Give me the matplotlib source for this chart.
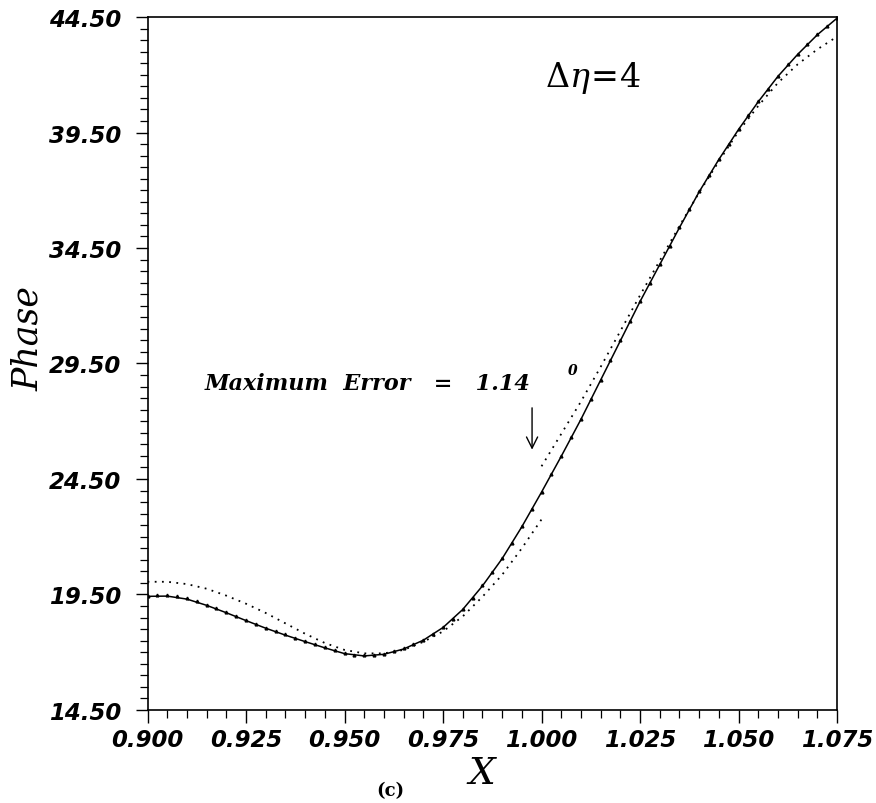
import matplotlib
matplotlib.use("Agg")
import matplotlib.pyplot as plt
from matplotlib.ticker import MultipleLocator, FormatStrFormatter

# SOLID CURVE (exact phase)
x_solid = [0.900, 0.905, 0.910, 0.915, 0.920, 0.925, 0.930, 0.935, 0.940, 0.945,
           0.950, 0.955, 0.960, 0.965, 0.970, 0.975, 0.980, 0.985, 0.990, 0.995,
           1.000, 1.005, 1.010, 1.015, 1.020, 1.025, 1.030, 1.035, 1.040, 1.045,
           1.050, 1.055, 1.060, 1.065, 1.070, 1.075]
y_solid = [19.42, 19.43, 19.30, 19.03, 18.71, 18.37, 18.04, 17.74, 17.46, 17.19,
           16.94, 16.84, 16.91, 17.14, 17.52, 18.07, 18.85, 19.87, 21.05, 22.43,
           23.93, 25.48, 27.08, 28.78, 30.48, 32.18, 33.78, 35.38, 36.93, 38.33,
           39.63, 40.83, 41.93, 42.88, 43.73, 44.45]

# TRIANGLE CURVE (almost on top of the solid one)
x_tri = [0.9000, 0.9025, 0.9050, 0.9075, 0.9100, 0.9125, 0.9150, 0.9175, 0.9200, 0.9225,
         0.9250, 0.9275, 0.9300, 0.9325, 0.9350, 0.9375, 0.9400, 0.9425, 0.9450, 0.9475,
         0.9500, 0.9525, 0.9550, 0.9575, 0.9600, 0.9625, 0.9650, 0.9675, 0.9700, 0.9725,
         0.9750, 0.9775, 0.9800, 0.9825, 0.9850, 0.9875, 0.9900, 0.9925, 0.9950, 0.9975,
         1.0000, 1.0025, 1.0050, 1.0075, 1.0100, 1.0125, 1.0150, 1.0175, 1.0200, 1.0225,
         1.0250, 1.0275, 1.0300, 1.0325, 1.0350, 1.0375, 1.0400, 1.0425, 1.0450, 1.0475,
         1.0500, 1.0525, 1.0550, 1.0575, 1.0600, 1.0625, 1.0650, 1.0675, 1.0700, 1.0725,
         1.0750]
y_tri = [19.45, 19.47, 19.46, 19.42, 19.33, 19.20, 19.06, 18.90, 18.74, 18.57,
         18.40, 18.23, 18.07, 17.92, 17.77, 17.63, 17.49, 17.35, 17.22, 17.09,
         16.97, 16.90, 16.87, 16.88, 16.94, 17.04, 17.17, 17.34, 17.55, 17.80,
         18.10, 18.45, 18.88, 19.36, 19.90, 20.47, 21.07, 21.72, 22.45, 23.20,
         23.95, 24.72, 25.50, 26.30, 27.10, 27.95, 28.80, 29.65, 30.50, 31.35,
         32.20, 33.00, 33.80, 34.60, 35.40, 36.17, 36.95, 37.65, 38.35, 39.00,
         39.65, 40.25, 40.85, 41.40, 41.95, 42.45, 42.90, 43.35, 43.75, 44.12,
         44.45]

# DOTTED CURVE, BROKEN AT X = 1.000
x_dot_a = [0.900, 0.905, 0.910, 0.915, 0.920, 0.925, 0.930, 0.935, 0.940, 0.945,
           0.950, 0.955, 0.960, 0.965, 0.970, 0.975, 0.980, 0.985, 0.990, 0.995,
           1.000]
y_dot_a = [20.05, 20.05, 19.95, 19.75, 19.45, 19.10, 18.70, 18.25, 17.80, 17.40,
           17.10, 16.95, 16.95, 17.10, 17.45, 17.90, 18.55, 19.40, 20.35, 21.50,
           22.75]
x_dot_b = [1.000, 1.005, 1.010, 1.015, 1.020, 1.025, 1.030, 1.035, 1.040, 1.045,
           1.050, 1.055, 1.060, 1.065, 1.070, 1.075]
y_dot_b = [25.05, 26.45, 27.85, 29.35, 30.90, 32.45, 33.95, 35.45, 36.90, 38.25,
           39.55, 40.65, 41.65, 42.45, 43.10, 43.65]

x_ticks = [0.900, 0.925, 0.950, 0.975, 1.000, 1.025, 1.050, 1.075]
y_ticks = [14.50, 19.50, 24.50, 29.50, 34.50, 39.50, 44.50]

plt.rcParams['mathtext.fontset'] = 'dejavuserif'

fig = plt.figure(figsize=(8.76, 8.04), dpi=100)
ax = fig.add_axes([0.1684, 0.1157, 0.7871, 0.8619])

# CURVES
ax.plot(x_solid, y_solid, color='black', lw=1.1)
ax.plot(x_tri, y_tri, linestyle='none', marker='^', ms=2.0, color='black')
ax.plot(x_dot_a, y_dot_a, color='black', lw=1.3, linestyle=(0, (1, 3)))
ax.plot(x_dot_b, y_dot_b, color='black', lw=1.3, linestyle=(0, (1, 3)))

# AXES
ax.set_xlim(0.900, 1.075)
ax.set_ylim(14.50, 44.50)
ax.set_xticks(x_ticks)
ax.set_yticks(y_ticks)
ax.xaxis.set_minor_locator(MultipleLocator(0.005))
ax.yaxis.set_minor_locator(MultipleLocator(0.5))
ax.xaxis.set_major_formatter(FormatStrFormatter('%.3f'))
ax.yaxis.set_major_formatter(FormatStrFormatter('%.2f'))
ax.tick_params(which='major', direction='out', length=9, width=1.0)
ax.tick_params(which='minor', direction='out', length=6, width=0.9)
ax.tick_params(axis='y', which='major', pad=10)
ax.tick_params(axis='x', which='major', pad=4)
for lab in ax.get_xticklabels():
    lab.set_fontsize(16.5)
    lab.set_fontstyle('italic')
    lab.set_fontweight('semibold')
for lab in ax.get_yticklabels():
    lab.set_fontsize(16.5)
    lab.set_fontstyle('italic')
    lab.set_fontweight('bold')
for sp in ax.spines.values():
    sp.set_linewidth(1.2)

ax.set_ylabel('Phase', family='DejaVu Serif', fontstyle='italic', fontsize=25)
ax.yaxis.set_label_coords(-0.148, 0.537)
ax.set_xlabel('X', family='DejaVu Serif', fontstyle='italic', fontsize=27, va='center')
ax.xaxis.set_label_coords(0.485, -0.091)
fig.text(0.445, 0.016, '(c)', family='DejaVu Serif', fontweight='bold', fontsize=13,
         ha='center', va='center')

# ANNOTATIONS
ax.text(1.0129, 41.9, r'$\Delta\eta\!=\!4$', fontsize=24, ha='center', va='center')
ax.text(0.9146, 28.66, 'Maximum  Error   =   1.14', family='DejaVu Serif', fontstyle='italic',
        fontweight='bold', fontsize=16, ha='left', va='center')
ax.text(1.0078, 29.2, '0', family='DejaVu Serif', fontstyle='italic', fontweight='bold',
        fontsize=10, ha='center', va='center')
ax.annotate('', xy=(0.9976, 25.65), xytext=(0.9976, 27.7),
            arrowprops=dict(arrowstyle='->,head_length=0.8,head_width=0.4', lw=1.0, color='black'))

fig.savefig('out.png', dpi=100)
